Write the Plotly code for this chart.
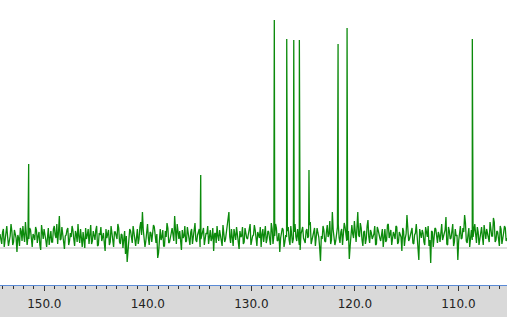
import plotly.graph_objects as go

# Chemical-shift window (ppm), left edge -> right edge
ppm_left = 154.28
ppm_right = 105.3

# Baseline noise (intensity relative to baseline), on an even grid across the window
noise = [
    14, 4, 19, 8, 22, 2, 12, 17, 6, 15,
    -4, 10, 20, 7, 13, 26, 3, 9, 18, 1,
    12, 21, 5, 16, -2, 11, 19, 8, 14, 3,
    17, 6, 22, 10, 4, 32, 9, 15, -1, 13,
    20, 7, 11, 18, 2, 14, 24, 5, 12, 16,
    0, 9, 19, 11, 4, 17, 8, 22, 3, 13,
    7, 15, -3, 10, 18, 6, 12, 1, 16, 9,
    20, 4, 13, 8, -6, -14, 10, 17, 5, 12,
    2, 19, 9, 26, 36, 11, 7, 24, 3, 15,
    12, 21, 5, -10, 14, 8, 18, 2, 11, 20,
    6, 15, 9, 32, 4, 13, 17, -2, 10, 22,
    7, 14, 3, 19, 11, 25, 6, 16, 1, 12,
    20, 8, 14, 4, 18, 10, -3, 15, 22, 7,
    13, 2, 17, 9, 24, 36, 5, 12, 19, 8,
    15, -1, 11, 21, 6, 14, 9, 18, 3, 12,
    23, 7, 16, 10, 1, 19, 13, 5, 17, 9,
    25, 4, 12, 20, 8, -4, 14, 18, 6, 11,
    21, 3, 15, 9, 24, 7, 13, -2, 17, 10,
    5, 19, 12, 26, 8, 15, 2, 20, 11, -13,
    9, 18, 6, 23, 14, 4, 36, 12, 7, 21,
    10, 16, 3, 25, 13, 8, -11, 19, 14, 27,
    6, 36, 11, 20, 2, 17, 9, 28, 5, 15,
    12, 22, 4, 18, 10, 14, 1, 19, 8, 24,
    13, 3, 16, 9, 21, 6, 12, -3, 17, 10,
    33, 7, 14, 20, 4, 15, 9, -12, 13, 18,
    6, 21, 11, 2, -15, 16, 9, 19, 5, 13,
    22, 8, 14, 31, 3, 17, 10, 24, 6, 12,
    -12, 15, 9, 20, 33, 7, 13, 1, 18, 11,
    24, 5, 16, 10, 21, 3, 14, 19, 8, 26,
    12, 30, 6, 17, 9, 22, 4, 15, 20, 10,
]

# Noise at the midpoints between the grid points above
noise_mid = [
    9, 16, 1, 21, 11, 7, 24, 3, 18, 10,
    13, 2, 17, 22, 6, 15, 11, 20, 5, 14,
    8, 18, 12, 3, 23, 9, 15, 1, 20, 11,
    6, 19, 13, 24, 16, 8, 21, 4, 12, 18,
    3, 15, 22, 9, 17, 6, 11, 19, 1, 10,
    20, 13, 4, 23, 7, 12, 18, 2, 15, 21,
    11, 5, 19, 14, 3, 22, 8, 16, 10, 24,
    6, 14, 0, 17, 12, -2, 19, 7, 22, 9,
    15, 4, 21, 13, 18, 1, 20, 10, 16, 6,
    23, 8, 14, -5, 19, 11, 2, 17, 25, 5,
    13, 20, 7, 15, 24, 9, 1, 18, 12, 6,
    21, 10, 16, 4, 22, 8, 13, 19, 9, 17,
    3, 15, 22, 11, 7, 20, 14, 5, 12, 18,
    9, 23, 6, 16, 28, 11, 19, 2, 14, 21,
    7, 17, 12, 4, 20, 10, 15, 24, 8, 13,
    18, 2, 11, 21, 14, 6, 22, 9, 16, 3,
    19, 12, 24, 7, 15, 10, 20, 1, 13, 17,
    8, 22, 5, 16, 11, 19, 3, 14, 21, 6,
    17, 10, 23, 4, 13, 20, 9, 15, 1, 12,
    22, 7, 16, 11, 27, 8, 18, 3, 14, 24,
    5, 19, 12, 21, 7, 17, 2, 23, 10, 15,
    20, 13, 25, 8, 16, 4, 22, 11, 18, 9,
    14, 3, 21, 12, 7, 19, 15, 6, 23, 10,
    18, 8, 13, 22, 4, 16, 11, 20, 2, 14,
    21, 9, 17, 5, 13, 24, 7, 19, 10, 15,
    3, 14, 22, 8, 17, 1, 20, 12, 16, 6,
    24, 11, 18, 4, 21, 9, 15, 2, 19, 13,
    7, 22, 10, 16, 25, 5, 20, 12, 8, 17,
    14, 21, 3, 18, 11, 23, 9, 15, 6, 20,
    12, 26, 8, 16, 2, 19, 13, 22, 7,
]

# Peaks: chemical shift (ppm) and intensity
peak_ppm = [151.51, 134.89, 127.78, 126.58, 125.90, 125.36, 124.43, 121.62, 120.75, 108.65]
peak_int = [84, 73, 228, 209, 208, 208, 78, 204, 220, 209]

# Assemble the spectrum
n = len(noise)
step = (ppm_left - ppm_right) / (n - 1)
pts = [(ppm_left - i * step, v) for i, v in enumerate(noise)]
pts += [(ppm_left - (i + 0.5) * step, v) for i, v in enumerate(noise_mid)]
pts += list(zip(peak_ppm, peak_int))
pts.sort(key=lambda p: -p[0])
xs = [p[0] for p in pts]
ys = [p[1] for p in pts]

fig = go.Figure()
fig.add_trace(go.Scatter(
    x=[ppm_left, ppm_right], y=[0, 0], mode="lines",
    line=dict(color="#d4d4d4", width=1.5), hoverinfo="skip", showlegend=False,
))
fig.add_trace(go.Scatter(
    x=xs, y=ys, mode="lines",
    line=dict(color="#0b8a0b", width=1.3), showlegend=False,
))

fig.update_layout(
    width=507, height=317,
    margin=dict(l=0, r=0, t=0, b=32, pad=0),
    paper_bgcolor="#d9d9d9",
    plot_bgcolor="white",
    xaxis=dict(
        range=[ppm_left, ppm_right],
        showgrid=False, zeroline=False,
        showline=True, linecolor="#5a8ad6", linewidth=1,
        ticks="outside", ticklen=5, tickwidth=1, tickcolor="#333333",
        tick0=0, dtick=10, tickformat=".1f",
        minor=dict(ticks="outside", ticklen=3, tickwidth=1, tickcolor="#333333", dtick=1),
        tickfont=dict(family="DejaVu Sans", size=12, color="#222222"),
        ticklabelstandoff=3,
    ),
    yaxis=dict(range=[-37, 248], visible=False, fixedrange=True),
)

fig.write_html("out.html")
